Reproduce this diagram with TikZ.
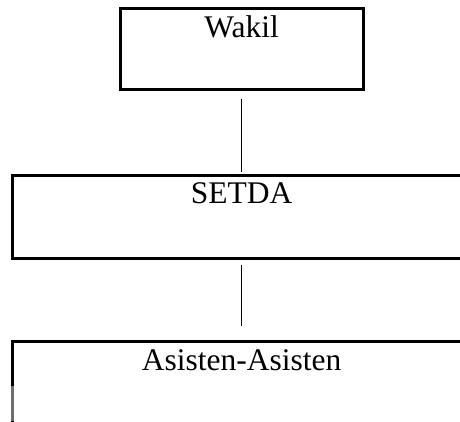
\documentclass[tikz,border=0pt]{standalone}
\usepackage{fontspec}
\setmainfont{Liberation Serif}
\usetikzlibrary{positioning}
\definecolor{edgegray}{RGB}{110,110,110}

\begin{document}
\begin{tikzpicture}[x=1pt, y=-1pt, line cap=butt, line join=miter,
	box/.style={draw, line width=2.8pt, inner sep=0pt, outer sep=0pt, anchor=north,
		font=\fontsize{31.5}{36}\selectfont},
	link/.style={line width=1pt}]
				\clip (0,0) rectangle (460,421);
				\node[box, minimum width=243pt, text height=28.5pt, text depth=52.5pt] (wakil) at (241.7,8.5) {Wakil};
				\node[box, minimum width=458pt, text height=28pt, text depth=55pt] (setda) at (241.7,175.5) {SETDA};
				\node[box, minimum width=458pt, text height=29pt, text depth=120pt] (asisten) at (241.7,341.5) {Asisten-Asisten};

				\draw[link, shorten <=9pt, shorten >=3.5pt] (wakil.south) -- (setda.north);
				\draw[link, shorten <=6pt, shorten >=16pt] (setda.south) -- (asisten.north);

				\draw[line width=2.8pt, edgegray] (asisten.west |- 0,386) -- (asisten.west |- 0,421);
			\end{tikzpicture}
\end{document}
